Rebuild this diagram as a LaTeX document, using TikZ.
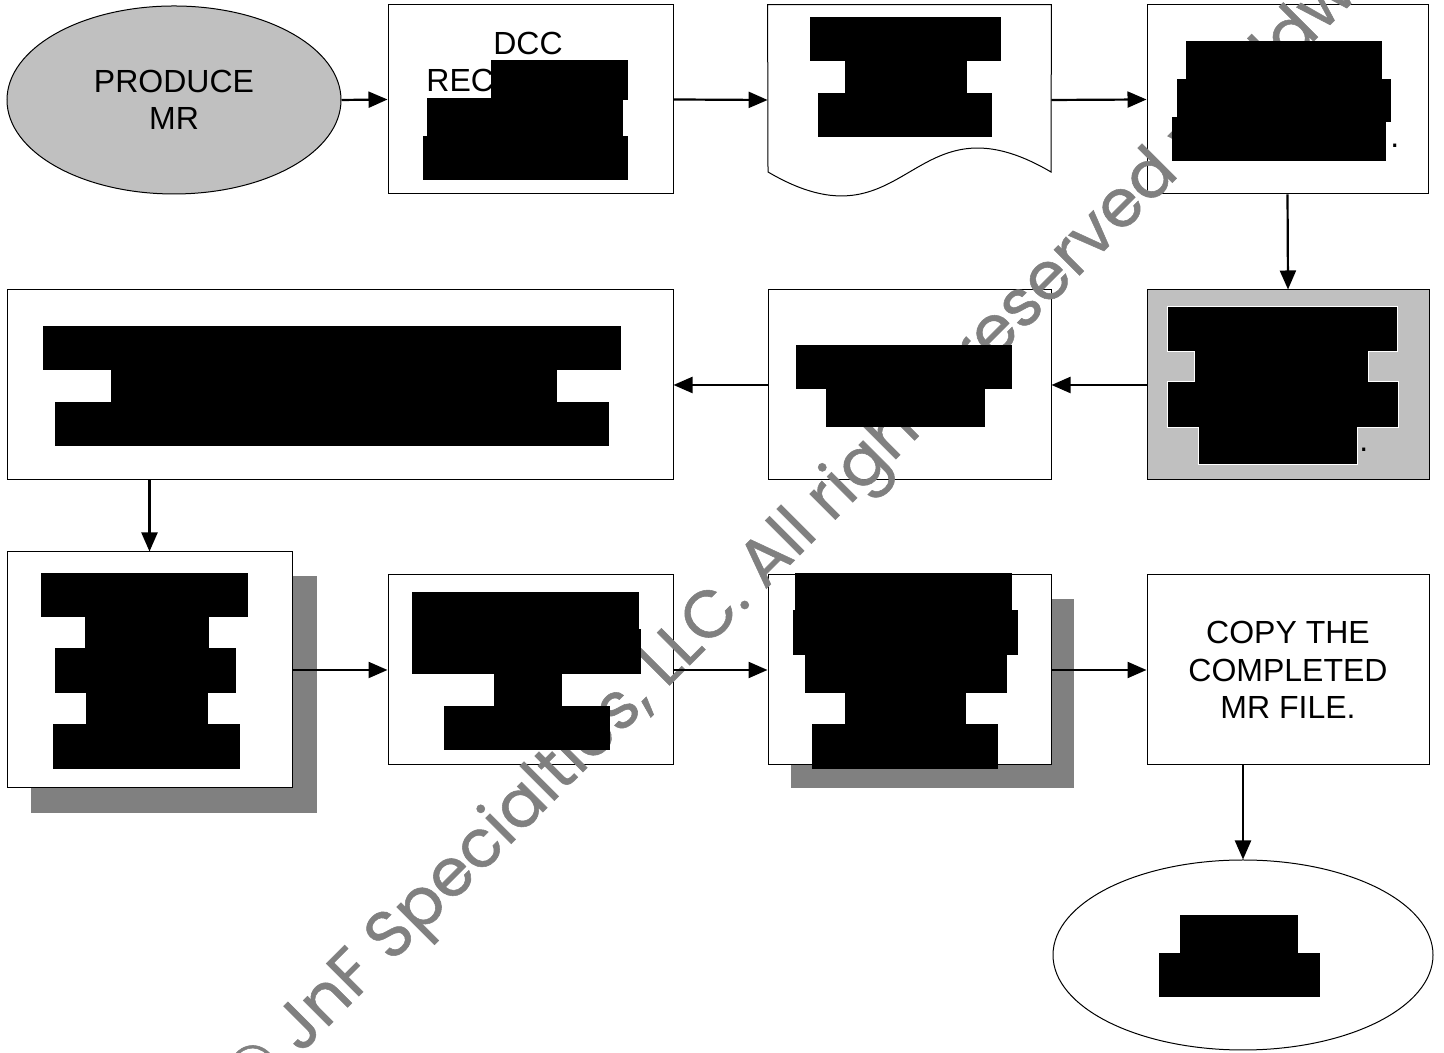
\documentclass[tikz,border=0pt]{standalone}
\usepackage{fontspec}
\usepackage{graphicx}
\setmainfont{Liberation Sans}
\newfontfamily\wmfont[FakeBold=0.8]{Poppins}
\usetikzlibrary{arrows.meta,shapes.geometric,fit}
\definecolor{shadowgray}{RGB}{128,128,128}
\definecolor{fillgray}{RGB}{192,192,192}
\definecolor{wmgray}{RGB}{128,128,128}
\begin{document}
\begin{tikzpicture}[x=0.5pt,y=0.5pt,
  box/.style={draw=black, line width=0.5pt, fill=white, inner sep=0pt},
  shadowbox/.style={fill=shadowgray, draw=none},
  arr/.style={line width=1.1pt, -{Triangle[length=9.5pt,width=8pt]}},
  redact/.style={fill=black, draw=none},
  lbl/.style={font=\fontsize{16}{18.8}\selectfont, inner sep=0pt, align=center},
]
\useasboundingbox (0,0) rectangle (1444,1053);
\fill[white] (0,0) rectangle (1444,1053);

% shadows
\fill[shadowbox] (31,240) rectangle (317,477);
\fill[shadowbox] (791,265) rectangle (1074,454);

% row 1
\node[box, ellipse, fill=fillgray, minimum width=167pt, minimum height=94pt] (e1) at (174,953) {};
\node[box, fit={(388,859) (673,1048)}] (b2) {};
\node[fit={(768,858) (1051,1048)}, inner sep=0pt] (b3) {};
\draw[line width=0.5pt, fill=white] (b3.north west) -- (768,881)
  .. controls (909.5,798) and (909.5,964) .. (1051,881) -- (b3.north east) -- cycle;
\node[box, fit={(1147,859) (1428,1048)}] (b4) {};

% row 2
\node[box, fit={(7,573) (673,763)}] (b6) {};
\node[box, fit={(768,573) (1051,763)}] (b5m) {};
\node[box, fill=fillgray, fit={(1147,573) (1429,763)}] (b5g) {};

% row 3
\node[box, fit={(7,265) (292,501)}] (b7) {};
\node[box, fit={(388,288) (673,478)}] (b8) {};
\node[box, fit={(768,288) (1051,478)}] (b9) {};
\node[box, fit={(1147,288) (1429,478)}] (b10) {};
\node[box, ellipse, minimum width=190pt, minimum height=95pt] (e2) at (1243,98) {};

% texts
\node[lbl] (t1) at (e1.center) {PRODUCE\\MR};
\node[lbl, anchor=base] (t2a) at (528,998) {DCC};
\node[lbl, anchor=base west] (t2b) at (426,961) {REC};
\node[lbl] (t10) at (b10.center) {COPY THE\\COMPLETED\\MR FILE.};

% watermark
\begin{scope}
\clip (0,0) rectangle (1444,1053);
\node[rotate=45, text=wmgray, inner sep=0pt] (wm) at (830,551)
  {\resizebox{835pt}{!}{\wmfont © JnF Specialties, LLC. All rights reserved worldwide}};
\end{scope}

% connectors
\draw[arr] (e1.east) -- (b2.west);
\draw[arr] (b2.east) -- (b3.west);
\draw[arr] (b3.east) -- (b4.west);
\draw[arr] (b4.south) -- (b5g.north);
\draw[arr] (b5g.west) -- (b5m.east);
\draw[arr] (b5m.west) -- (b6.east);
\draw[arr] (b6.south -| b7.north) -- (b7.north);
\draw[arr] (b7.east) -- (b8.west);
\draw[arr] (b8.east) -- (b9.west);
\draw[arr] (b9.east) -- (b10.west);
\draw[arr] (b10.south -| e2.north) -- (e2.north);

% redactions
\foreach \a/\b/\c/\d in {
  491/953/628/993, 427/916/623/955, 423/873/628/917,
  810/992/1001/1036, 845/960/967/992, 818/916/992/960,
  1186/974/1382/1012, 1177/931/1391/974, 1172/892/1386/936,
  43/683/621/727, 111/651/557/683, 55/607/609/651,
  796/664/1012/708, 826/626/985/664,
  41/436/248/480, 85/404/209/436, 55/360/236/405, 86/328/208/360, 53/284/240/329,
  412/423/639/461, 412/379/641/424, 494/347/562/380, 444/303/610/347,
  795/442/1012/480, 793/398/1018/443, 805/360/1007/398, 845/328/966/360, 812/284/998/329,
  1180/100/1298/138, 1159/56/1320/100}
  \fill[redact] (\a,\b) rectangle (\c,\d);
\foreach \a/\b/\c/\d in {1168/702/1397/746, 1195/671/1368/702, 1168/626/1398/671, 1199/589/1357/626}
  \draw[white, line width=1pt] (\a,\b) rectangle (\c,\d);
\foreach \a/\b/\c/\d in {1168/702/1397/746, 1195/671/1368/702, 1168/626/1398/671, 1199/589/1357/626}
  \fill[redact] (\a,\b) rectangle (\c,\d);

\node[lbl, anchor=base west] (d4) at (1390,905) {.};
\node[lbl, anchor=base west] (d5) at (1359,601) {.};
\end{tikzpicture}
\end{document}
